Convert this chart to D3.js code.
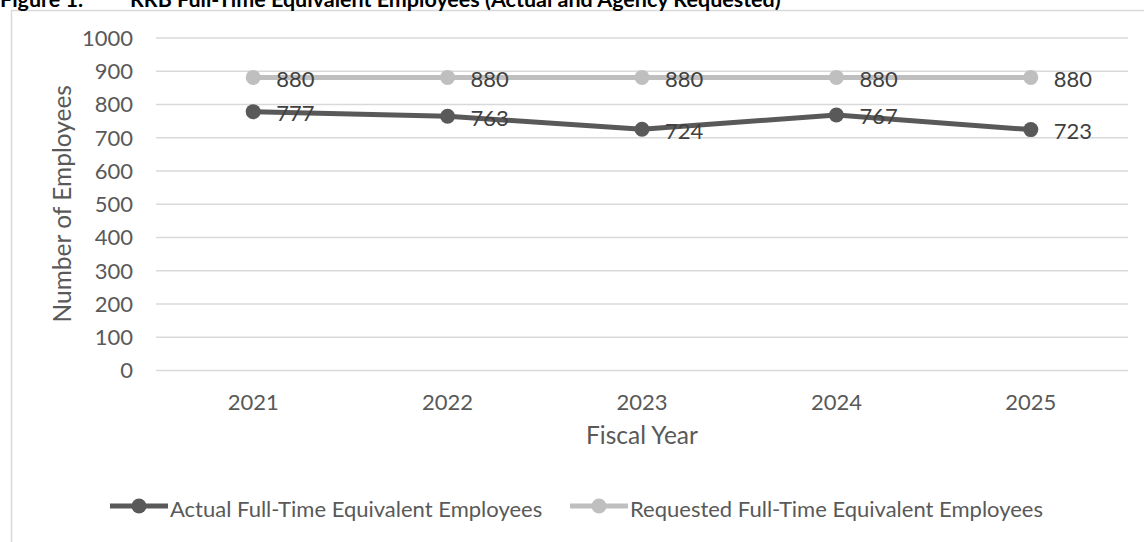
<!DOCTYPE html>
<html>
<head>
<meta charset="utf-8">
<script src="https://cdn.jsdelivr.net/npm/d3@7"></script>
<style>
  html, body { margin: 0; padding: 0; background: #fff; }
  svg { display: block; font-family: Lato, "Open Sans", sans-serif; }
</style>
</head>
<body>
<svg id="chart" width="1144" height="542"></svg>
<script>
const years = ["2021", "2022", "2023", "2024", "2025"];
const actual = [777, 763, 724, 767, 723];
const requested = [880, 880, 880, 880, 880];
const yTicks = [0, 100, 200, 300, 400, 500, 600, 700, 800, 900, 1000];
const seriesNames = ["Actual Full-Time Equivalent Employees", "Requested Full-Time Equivalent Employees"];
const titleLabel = "Figure 1.";
const titleText = "RRB Full-Time Equivalent Employees (Actual and Agency Requested)";
const yTitle = "Number of Employees";
const xTitle = "Fiscal Year";

const FS = 22;
const FT = 24.5;
const svg = d3.select("#chart");
const W = 1144, H = 542;
const plot = { left: 156, right: 1128, top: 37.5, bottom: 370 };

const x = d3.scaleBand().domain(years).range([plot.left, plot.right]).padding(0);
const cx = d => x(d) + x.bandwidth() / 2;
const y = d3.scaleLinear().domain([0, 1000]).range([plot.bottom, plot.top]);

// chart border
svg.append("rect").attr("x", 11.5).attr("y", 10.5).attr("width", W + 20).attr("height", H + 20)
  .attr("fill", "#fff").attr("stroke", "#d9d9d9").attr("stroke-width", 1.5);

// title (clipped at top, as in the reference)
svg.append("text").attr("x", 0).attr("y", 7).attr("font-weight", "bold").attr("font-size", 21.5)
  .attr("fill", "#000").text(titleLabel);
svg.append("text").attr("x", 130).attr("y", 7).attr("font-weight", "bold").attr("font-size", 21.5)
  .attr("fill", "#000").text(titleText);

// gridlines + y tick labels
const yAxis = d3.axisLeft(y).tickValues(yTicks).tickFormat(d3.format("d"))
  .tickSize(-(plot.right - plot.left)).tickPadding(23);
const gy = svg.append("g").attr("transform", `translate(${plot.left},0)`).call(yAxis);
gy.select(".domain").remove();
gy.selectAll(".tick line").attr("stroke", "#d9d9d9").attr("stroke-width", 1.5);
gy.selectAll(".tick text").attr("fill", "#595959").attr("font-size", FS)
  .attr("font-family", "Lato, 'Open Sans', sans-serif").attr("dy", "0.36em");

// x axis labels
const xAxis = d3.axisBottom(x).tickSize(0).tickPadding(24);
const gx = svg.append("g").attr("transform", `translate(0,${plot.bottom})`).call(xAxis);
gx.select(".domain").remove();
gx.selectAll(".tick text").attr("fill", "#595959").attr("font-size", FS)
  .attr("font-family", "Lato, 'Open Sans', sans-serif");

// axis titles
svg.append("text").attr("transform", `translate(71,${(plot.top + plot.bottom) / 2}) rotate(-90)`)
  .attr("text-anchor", "middle").attr("fill", "#595959").attr("font-size", FT).text(yTitle);
svg.append("text").attr("x", (plot.left + plot.right) / 2).attr("y", 444)
  .attr("text-anchor", "middle").attr("fill", "#595959").attr("font-size", FT).text(xTitle);

const series = [
  { name: seriesNames[0], values: actual, color: "#595959" },
  { name: seriesNames[1], values: requested, color: "#bfbfbf" }
];

const line = d3.line().x((d, i) => cx(years[i])).y(d => y(d));

series.forEach(s => {
  const g = svg.append("g");
  g.append("path").datum(s.values).attr("d", line).attr("fill", "none")
    .attr("stroke", s.color).attr("stroke-width", 5).attr("stroke-linejoin", "round");
  g.selectAll("circle").data(s.values).join("circle")
    .attr("cx", (d, i) => cx(years[i])).attr("cy", d => y(d)).attr("r", 7.5).attr("fill", s.color);
});
series.forEach(s => {
  svg.append("g").selectAll("text").data(s.values).join("text")
    .attr("x", (d, i) => cx(years[i]) + 23).attr("y", d => y(d) + 9.5)
    .attr("fill", "#404040").attr("font-size", FS).text(d => d);
});

// legend
const legendItems = [
  { name: seriesNames[0], color: "#595959", x0: 110 },
  { name: seriesNames[1], color: "#bfbfbf", x0: 570 }
];
const ly = 506;
legendItems.forEach(l => {
  svg.append("line").attr("x1", l.x0).attr("x2", l.x0 + 58).attr("y1", ly).attr("y2", ly)
    .attr("stroke", l.color).attr("stroke-width", 5);
  svg.append("circle").attr("cx", l.x0 + 29).attr("cy", ly).attr("r", 7.5).attr("fill", l.color);
  svg.append("text").attr("x", l.x0 + 60).attr("y", ly + 11).attr("fill", "#595959")
    .attr("font-size", FS).text(l.name);
});
</script>
</body>
</html>
